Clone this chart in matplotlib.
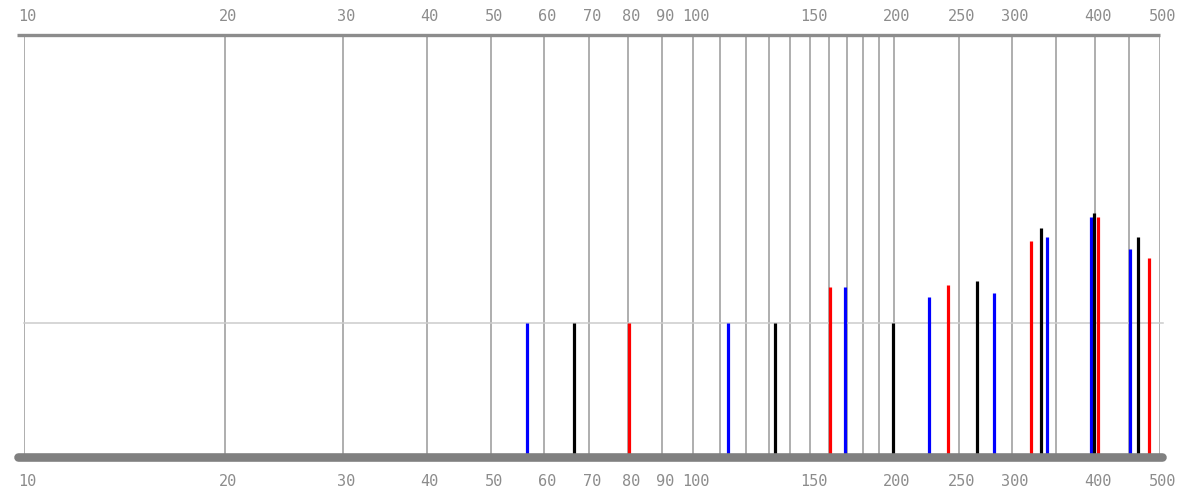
import matplotlib
matplotlib.use('Agg')

import matplotlib.pyplot as plt
import matplotlib.transforms as mtransforms

# --- data ---
peak_pos = [56.5, 66.5, 80.3, 113, 132.8, 160.5, 169, 199.4, 225.7, 241, 266, 282,
            320.7, 332, 339, 394, 398.5, 404, 451, 464, 481.6]
peak_height = [1.0, 1.0, 1.0, 1.0, 1.0, 1.27, 1.27, 1.0, 1.20, 1.29, 1.32, 1.23,
               1.62, 1.72, 1.65, 1.80, 1.83, 1.80, 1.56, 1.65, 1.49]
peak_color = ['blue', 'black', 'red', 'blue', 'black', 'red', 'blue', 'black', 'blue', 'red',
              'black', 'blue', 'red', 'black', 'blue', 'blue', 'black', 'red', 'blue', 'black', 'red']

grid_x = [10, 20, 30, 40, 50, 60, 70, 80, 90, 100, 110, 120, 130, 140, 150, 160, 170, 180,
          190, 200, 250, 300, 350, 400, 450, 500]
tick_labels = [10, 20, 30, 40, 50, 60, 70, 80, 90, 100, 150, 200, 250, 300, 400, 500]
ref_level = 1.0

W, H = 1193, 495
fig = plt.figure(figsize=(W / 100, H / 100), dpi=100)
ax = fig.add_axes([24 / W, (H - 455) / H, (1160 - 24) / W, (455 - 35) / H])
ax.set_xscale('log')
ax.set_xlim(10, 500)
ax.set_ylim(0, 420 / 132)
for s in ax.spines.values():
    s.set_visible(False)
ax.set_xticks([])
ax.set_yticks([])
ax.minorticks_off()

for gx in grid_x:
    ax.axvline(gx, color='#999999', linewidth=1.1, zorder=1)
ax.plot([10, 505], [ref_level, ref_level], color='#cccccc', linewidth=1.1, zorder=1, clip_on=False)

ax.vlines(peak_pos, 0, peak_height, colors=peak_color, linewidth=2.3, zorder=3)

# top and bottom rails
tr = ax.transAxes
ax.plot([-7 / 1136, 1.0], [1, 1], transform=tr, color='#8c8c8c', linewidth=2.4,
        solid_capstyle='butt', clip_on=False, zorder=4)
ax.plot([-6 / 1136, 1 + 2 / 1136], [-1.5 / 420, -1.5 / 420], transform=tr, color='#808080',
        linewidth=6.2, solid_capstyle='round', clip_on=False, zorder=4)

# tick labels above and below
blend = mtransforms.blended_transform_factory(ax.transData, ax.transAxes)
shift = mtransforms.ScaledTranslation(3 / 100, 0, fig.dpi_scale_trans)
for t in tick_labels:
    for yy in (1 + 18 / 420, -26 / 420):
        ax.text(t, yy, str(t), transform=blend + shift, ha='center', va='center',
                fontsize=11, color='#8c8c8c', family='DejaVu Sans Mono', clip_on=False)

fig.savefig('out.png', dpi=100)
